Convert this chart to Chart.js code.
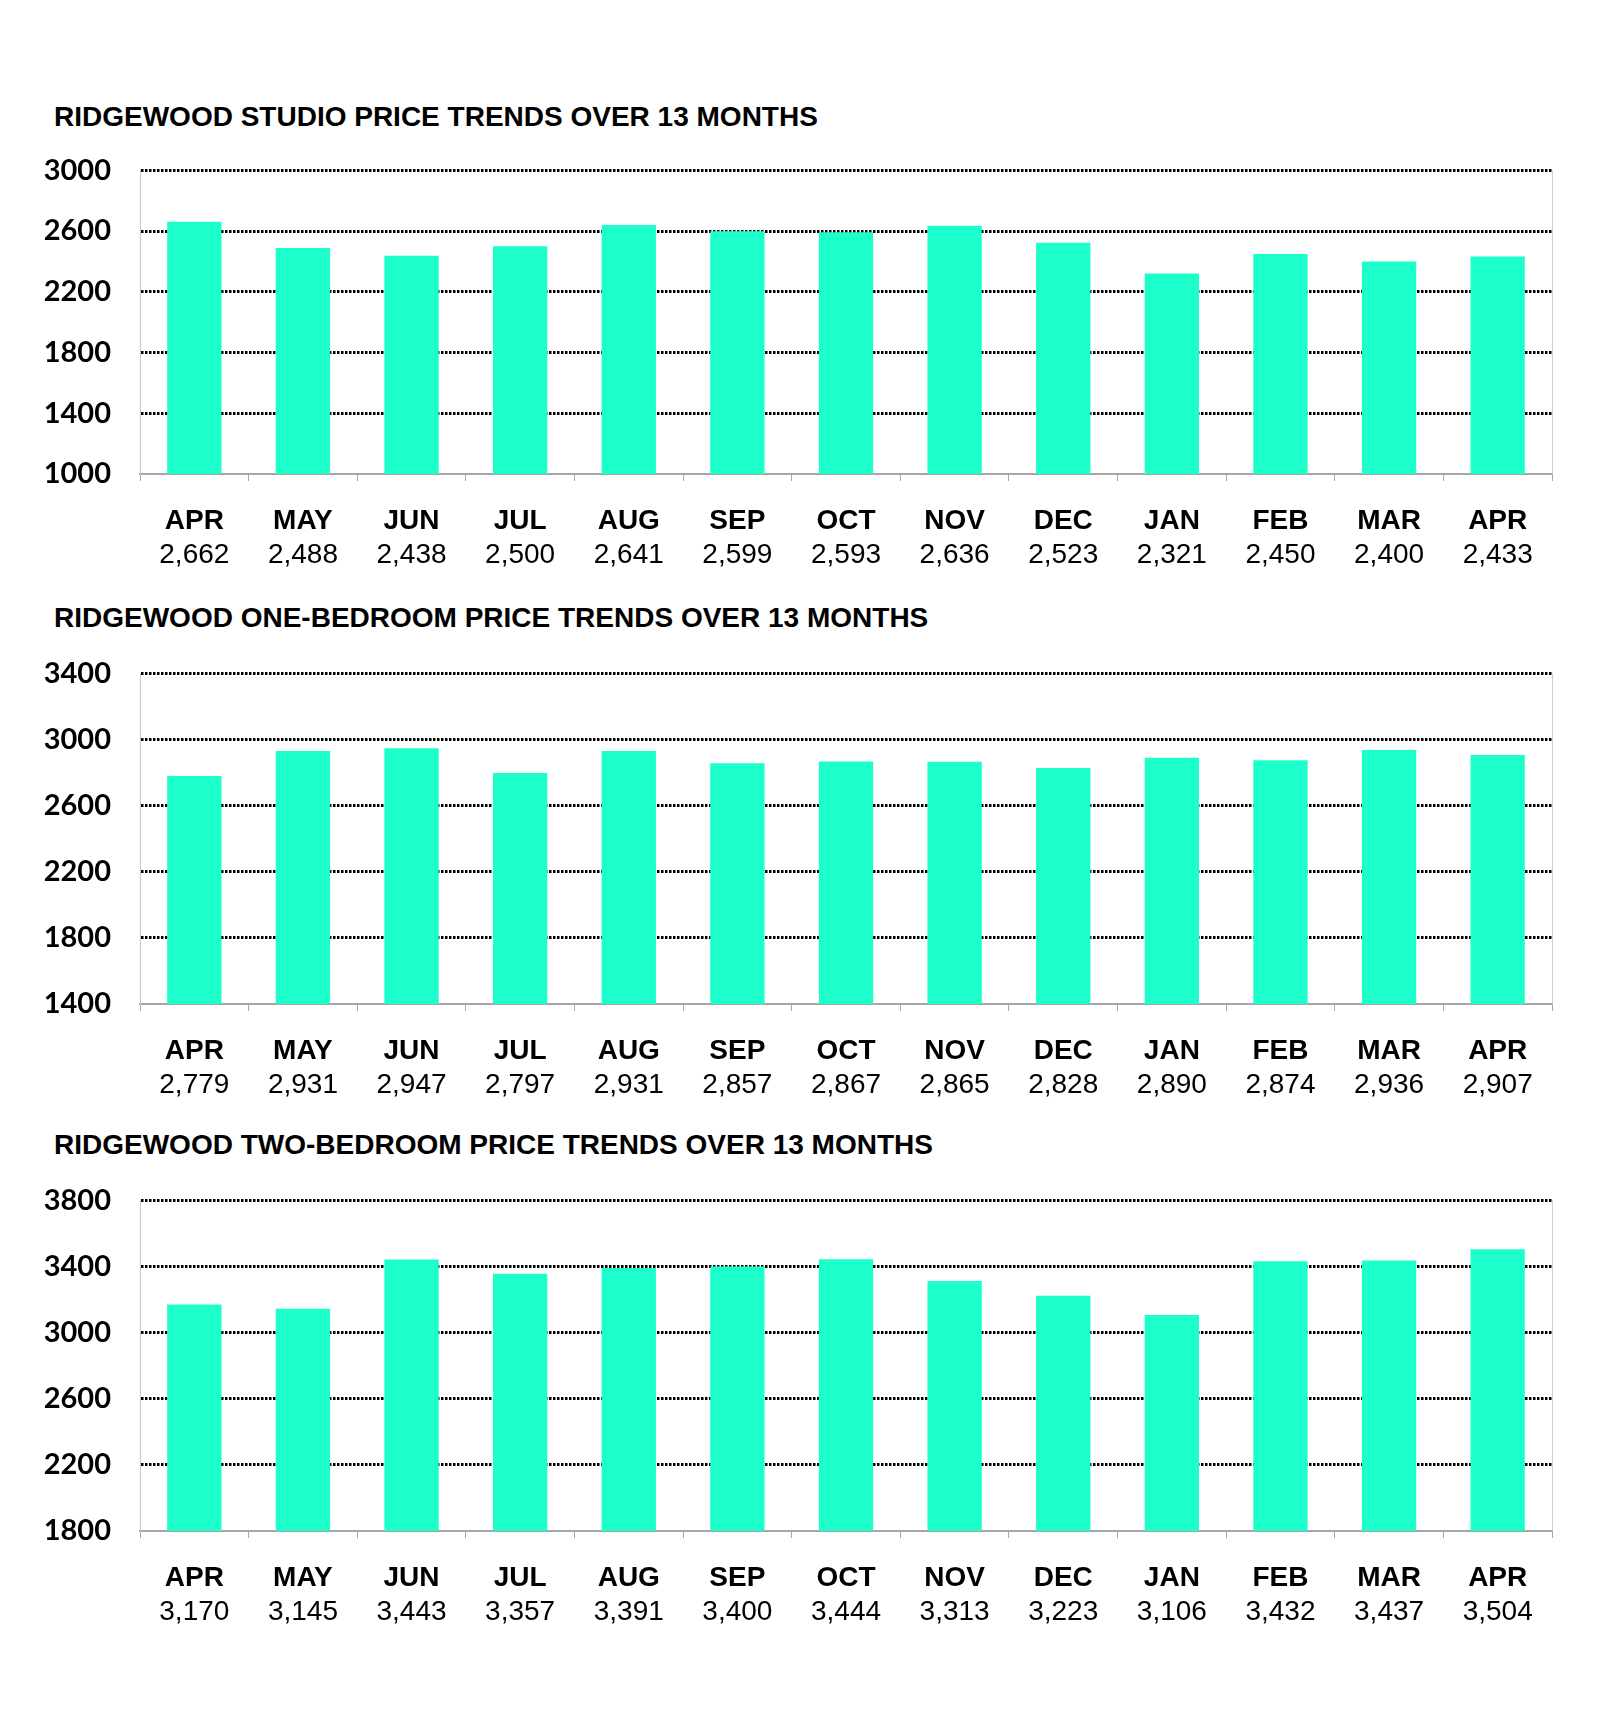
<!DOCTYPE html>
<html>
<head>
<meta charset="utf-8">
<script src="https://cdn.jsdelivr.net/npm/chart.js@4/dist/chart.umd.min.js"></script>
<style>
  body { margin: 0; background: #fff; width: 1600px; height: 1732px; position: relative; overflow: hidden; }
  .title { position: absolute; left: 54px; font: bold 28px/28px "Liberation Sans", Arial, sans-serif; color: #000; white-space: nowrap; }
  canvas { position: absolute; left: 0; }
</style>
</head>
<body>
<div class="title" style="top:103px">RIDGEWOOD STUDIO PRICE TRENDS OVER 13 MONTHS</div>
<canvas id="studio-chart" width="1600" height="450" style="top:124px"></canvas>

<div class="title" style="top:604px">RIDGEWOOD ONE-BEDROOM PRICE TRENDS OVER 13 MONTHS</div>
<canvas id="onebed-chart" width="1600" height="477" style="top:627px"></canvas>

<div class="title" style="top:1131px">RIDGEWOOD TWO-BEDROOM PRICE TRENDS OVER 13 MONTHS</div>
<canvas id="twobed-chart" width="1600" height="477" style="top:1154px"></canvas>

<script>
const months = ["APR", "MAY", "JUN", "JUL", "AUG", "SEP", "OCT", "NOV", "DEC", "JAN", "FEB", "MAR", "APR"];
const studioPrices = [2662, 2488, 2438, 2500, 2641, 2599, 2593, 2636, 2523, 2321, 2450, 2400, 2433];
const oneBedPrices = [2779, 2931, 2947, 2797, 2931, 2857, 2867, 2865, 2828, 2890, 2874, 2936, 2907];
const twoBedPrices = [3170, 3145, 3443, 3357, 3391, 3400, 3444, 3313, 3223, 3106, 3432, 3437, 3504];

const BAR_COLOR = "#1cffcb";
const ARIAL = '"Liberation Sans", Arial, sans-serif';

// thin grey line down the right side of the plot
const rightEdge = {
  id: "rightEdge",
  afterDraw(chart) {
    const { ctx, chartArea } = chart;
    ctx.save();
    ctx.strokeStyle = "#d0d0d0";
    ctx.lineWidth = 1;
    ctx.beginPath();
    ctx.moveTo(chartArea.right + 0.5, chartArea.top);
    ctx.lineTo(chartArea.right + 0.5, chartArea.bottom);
    ctx.stroke();
    ctx.restore();
  },
};

function makeChart(id, prices, yMin, yMax) {
  return new Chart(document.getElementById(id).getContext("2d"), {
    type: "bar",
    data: {
      labels: months,
      datasets: [
        {
          data: prices,
          backgroundColor: BAR_COLOR,
          barPercentage: 0.5,
          categoryPercentage: 1.0,
        },
      ],
    },
    options: {
      responsive: false,
      animation: false,
      layout: { padding: { top: 20, right: 48, bottom: 2, left: 0 } },
      plugins: { legend: { display: false }, tooltip: { enabled: false } },
      scales: {
        x: {
          position: "bottom",
          offset: true,
          grid: {
            drawOnChartArea: false,
            drawTicks: true,
            tickLength: 7,
            color: "#a6a6a6",
            offset: true,
          },
          border: { color: "#a6a6a6", width: 2 },
          ticks: {
            padding: 23,
            color: "#000",
            maxRotation: 0,
            autoSkip: false,
            font: { family: ARIAL, size: 28, weight: "bold" },
          },
          afterFit: (axis) => { axis.height = 64; },
        },
        values: {
          type: "category",
          position: "bottom",
          labels: prices.map((v) => v.toLocaleString("en-US")),
          offset: true,
          grid: { display: false, drawTicks: false },
          border: { display: false },
          ticks: {
            padding: 0,
            color: "#000",
            maxRotation: 0,
            autoSkip: false,
            font: { family: ARIAL, size: 28 },
          },
          afterFit: (axis) => { axis.height = 34; },
        },
        y: {
          min: yMin,
          max: yMax,
          grid: {
            drawTicks: false,
            lineWidth: 3,
            color: (c) => (c.tick && c.tick.value === yMin ? "rgba(0,0,0,0)" : "#000"),
          },
          border: { color: "#c8c8c8", width: 1, dash: [2.5, 1.5] },
          ticks: {
            stepSize: 400,
            padding: 29,
            color: "#000",
            font: { family: "Lato, Calibri, sans-serif", size: 29, weight: "bold" },
            callback: (v) => String(v),
          },
          afterFit: (axis) => { axis.width = 140; },
        },
      },
    },
    plugins: [rightEdge],
  });
}

makeChart("studio-chart", studioPrices, 1000, 3000);
makeChart("onebed-chart", oneBedPrices, 1400, 3400);
makeChart("twobed-chart", twoBedPrices, 1800, 3800);
</script>
</body>
</html>
